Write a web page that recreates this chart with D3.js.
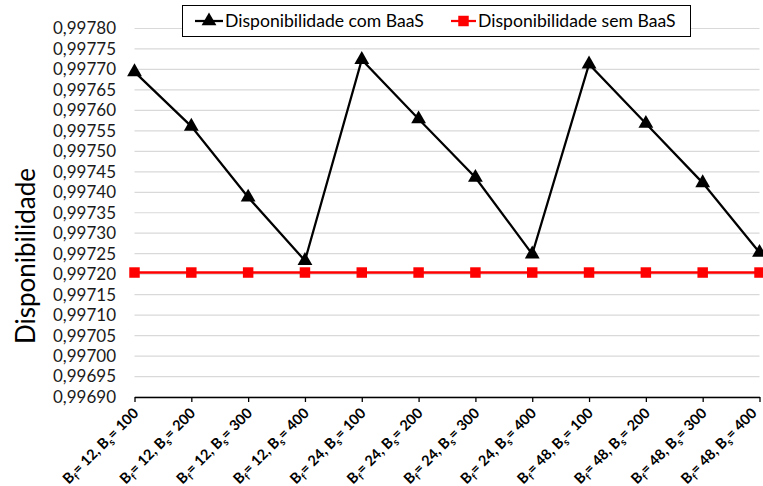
<!DOCTYPE html>
<html>
<head>
<meta charset="utf-8">
<script src="https://cdn.jsdelivr.net/npm/d3@7"></script>
<style>
  body { margin: 0; background: #fff; }
  text { font-family: Lato, "Open Sans", sans-serif; }
</style>
</head>
<body>
<svg id="chart" width="763" height="486"></svg>
<script>
// Buffer sizes per scenario (B_f, B_s)
const bfValues = [12, 12, 12, 12, 24, 24, 24, 24, 48, 48, 48, 48];
const bsValues = [100, 200, 300, 400, 100, 200, 300, 400, 100, 200, 300, 400];

// Availability with and without BaaS
const comBaaS = [0.997694, 0.997561, 0.997388, 0.997233, 0.997724, 0.997579,
                 0.997436, 0.997249, 0.997713, 0.997568, 0.997423, 0.997253];
const semBaaS = [0.997204, 0.997204, 0.997204, 0.997204, 0.997204, 0.997204,
                 0.997204, 0.997204, 0.997204, 0.997204, 0.997204, 0.997204];

// Y axis ticks
const yTicks = [0.99690, 0.99695, 0.99700, 0.99705, 0.99710, 0.99715, 0.99720,
                0.99725, 0.99730, 0.99735, 0.99740, 0.99745, 0.99750, 0.99755,
                0.99760, 0.99765, 0.99770, 0.99775, 0.99780];

const seriesNames = ["Disponibilidade com BaaS", "Disponibilidade sem BaaS"];

const W = 763;
const svg = d3.select("#chart");
const plot = { left: 134.5, right: 759.5, top: 28.5, bottom: 397 };

const x = d3.scalePoint().domain(d3.range(bfValues.length)).range([plot.left, plot.right]);
const y = d3.scaleLinear().domain([0.99690, 0.99780]).range([plot.bottom, plot.top]);

// Horizontal gridlines
svg.append("g").selectAll("line").data(yTicks).join("line")
  .attr("x1", plot.left).attr("x2", plot.right)
  .attr("y1", d => y(d)).attr("y2", d => y(d))
  .attr("stroke", "#d9d9d9").attr("stroke-width", 1.2);

// Y tick labels
const fmt = d => d.toFixed(5).replace(".", ",");
svg.append("g").selectAll("text").data(yTicks).join("text")
  .attr("x", 116).attr("y", d => y(d)).attr("dy", "0.35em")
  .attr("text-anchor", "end")
  .attr("font-size", 17).attr("fill", "#1a1a1a")
  .text(fmt);

// X axis
const xAxis = svg.append("g").attr("transform", `translate(0,${plot.bottom})`)
  .call(d3.axisBottom(x).tickSize(5).tickSizeOuter(0).tickFormat(""));
xAxis.select(".domain").attr("stroke", "#000").attr("stroke-width", 1.3);
xAxis.selectAll(".tick line").attr("stroke", "#000").attr("stroke-width", 1.3);

// X tick labels with subscripts, rotated 45 degrees
const labelPos = i => [x(i) + 5, plot.bottom + 17];
const xl = svg.append("g").selectAll("text").data(d3.range(bfValues.length)).join("text")
  .attr("transform", i => `translate(${labelPos(i)}) rotate(-45)`)
  .attr("text-anchor", "end")
  .attr("font-size", 14.5).attr("font-weight", "bold").attr("fill", "#000");
xl.each(function(i) {
  const t = d3.select(this);
  t.append("tspan").text("B");
  t.append("tspan").attr("font-size", 10).attr("dy", 3.5).text("f");
  t.append("tspan").attr("dy", -3.5).text(`= ${bfValues[i]}, B`);
  t.append("tspan").attr("font-size", 10).attr("dy", 3.5).text("s");
  t.append("tspan").attr("dy", -3.5).text(`= ${bsValues[i]}`);
});
// keep the last labels inside the right edge
xl.each(function(i) {
  const r = this.getBoundingClientRect();
  if (r.right > W - 1) {
    const [px, py] = labelPos(i);
    d3.select(this).attr("transform", `translate(${px - (r.right - W + 1)},${py}) rotate(-45)`);
  }
});

// Y axis title
svg.append("text")
  .attr("transform", "translate(35,256) rotate(-90)")
  .attr("text-anchor", "middle")
  .attr("font-size", 26).attr("fill", "#000")
  .text("Disponibilidade");

// Lines
const line = d3.line().x((d, i) => x(i)).y(d => y(d));
svg.append("path").datum(semBaaS).attr("d", line)
  .attr("fill", "none").attr("stroke", "#ff0000").attr("stroke-width", 2.5);
svg.append("path").datum(comBaaS).attr("d", line)
  .attr("fill", "none").attr("stroke", "#000").attr("stroke-width", 2.25);

// Markers
const tri = d3.symbol().type(d3.symbolTriangle).size(95);
const sq = d3.symbol().type(d3.symbolSquare).size(110);
svg.append("g").selectAll("path").data(semBaaS).join("path")
  .attr("transform", (d, i) => `translate(${x(i)},${y(d)})`)
  .attr("d", sq).attr("fill", "#ff0000");
svg.append("g").selectAll("path").data(comBaaS).join("path")
  .attr("transform", (d, i) => `translate(${x(i)},${y(d)})`)
  .attr("d", tri).attr("fill", "#000");

// Legend
const lg = svg.append("g");
lg.append("rect").attr("x", 182.5).attr("y", 5.5).attr("width", 508).attr("height", 31)
  .attr("fill", "#fff").attr("stroke", "#000").attr("stroke-width", 1);
const items = [
  { name: seriesNames[0], color: "#000", sym: tri, x0: 195, x1: 223, tx: 225 },
  { name: seriesNames[1], color: "#ff0000", sym: sq, x0: 451, x1: 476, tx: 478 }
];
items.forEach(it => {
  lg.append("line").attr("x1", it.x0).attr("x2", it.x1).attr("y1", 21).attr("y2", 21)
    .attr("stroke", it.color).attr("stroke-width", 2.25);
  lg.append("path").attr("transform", `translate(${(it.x0 + it.x1) / 2},21)`)
    .attr("d", it.sym).attr("fill", it.color);
  lg.append("text").attr("x", it.tx).attr("y", 21).attr("dy", "0.35em")
    .attr("font-size", 17.6).attr("fill", "#000").text(it.name);
});
</script>
</body>
</html>
